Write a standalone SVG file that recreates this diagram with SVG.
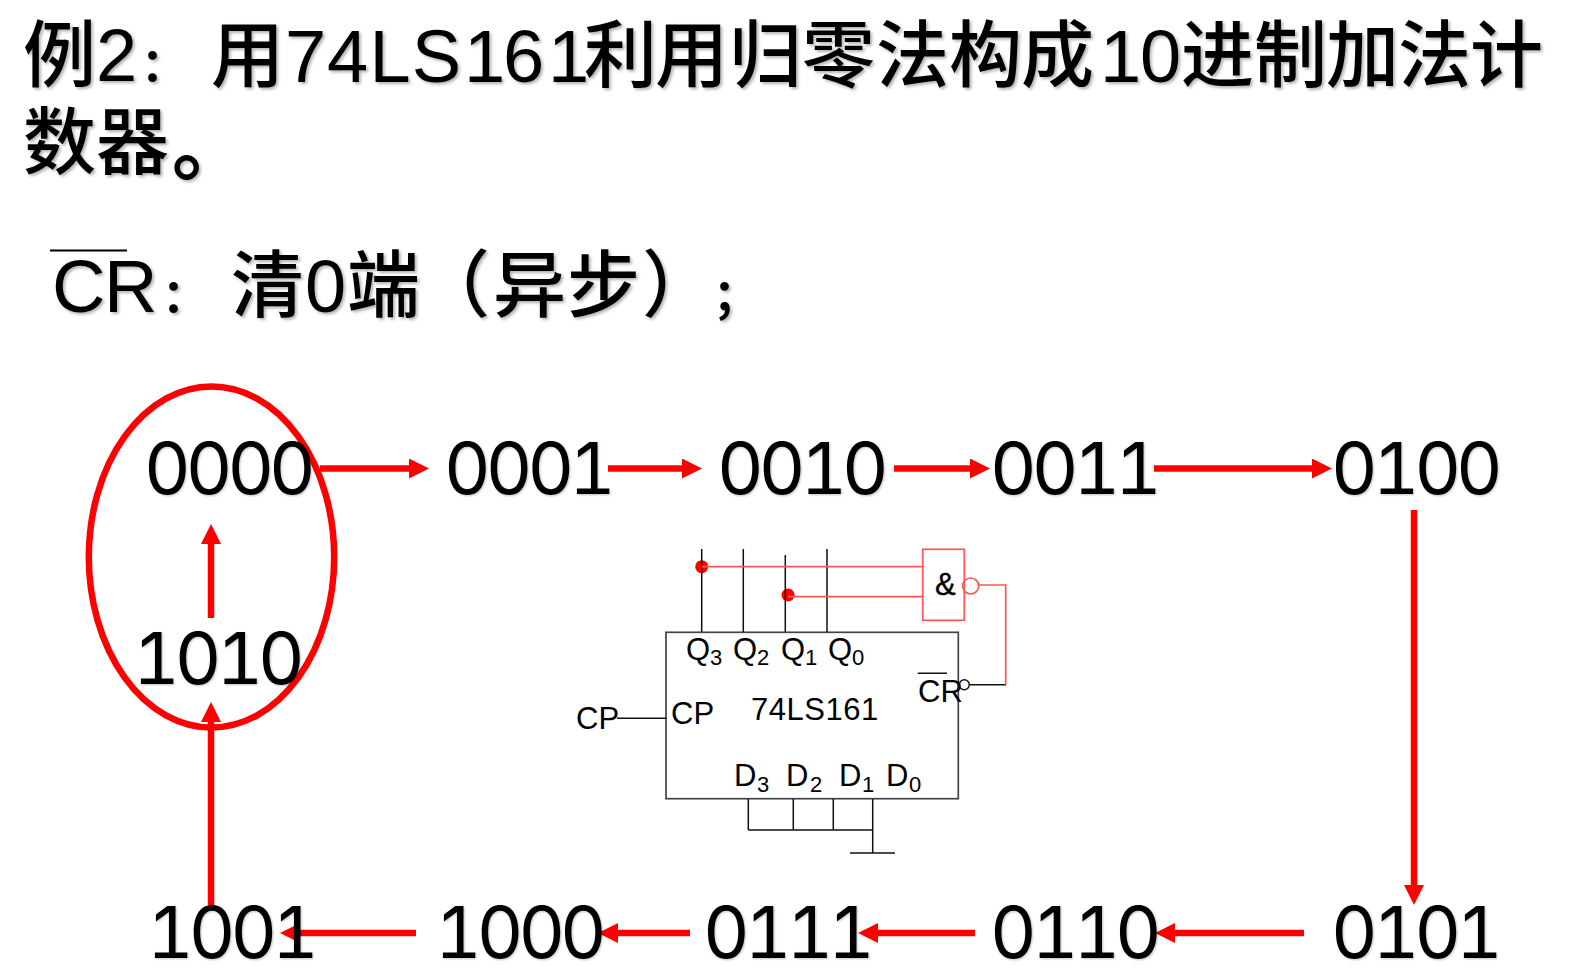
<svg xmlns="http://www.w3.org/2000/svg" width="1578" height="972" viewBox="0 0 1578 972">
<style>
text{font-family:"Liberation Sans","Noto Sans CJK SC",sans-serif;fill:#000;font-kerning:none}
.h{font-size:74px;filter:drop-shadow(2px 2px 1.5px rgba(0,0,0,.3))}
.j{font-family:"Noto Sans CJK SC",sans-serif;font-size:73px;font-weight:500}
.p{font-family:"Noto Sans CJK SC",sans-serif;font-size:46px;font-weight:700}
.o{font-family:"Noto Sans CJK SC",sans-serif;font-size:76px;font-weight:700}
.n{font-family:Inter,sans-serif;font-size:72px;font-variant-numeric:tabular-nums;letter-spacing:-5px;filter:drop-shadow(1px 1px 1px rgba(0,0,0,.25))}
.c{font-size:31px}
.s{font-size:22px}
.a{stroke:#f00;stroke-width:6.5;fill:none;marker-end:url(#ah)}
.r{stroke:#f55;stroke-width:1.7;fill:none}
.k{stroke:#111;stroke-width:1.5;fill:none}
.b{stroke:#444;stroke-width:1.7;fill:none}
</style>
<defs>
<marker id="ah" markerUnits="userSpaceOnUse" markerWidth="20" markerHeight="20" viewBox="0 0 20 20" refX="2" refY="10" orient="auto"><path d="M0 0L20 10L0 20Z" fill="#f00"/></marker>
</defs>
<g id="title">
<text class="h" y="82"><tspan class="j" x="23" y="81">例</tspan><tspan x="96">2</tspan><tspan class="p" x="141">：</tspan><tspan class="j" x="211" y="81">用</tspan><tspan x="285 327 369.5 411.7 464 503 548" y="82">74LS161</tspan><tspan class="j" x="584 655 729 802 876 949 1021" y="81">利用归零法构成</tspan><tspan x="1100 1140" y="82">10</tspan><tspan class="j" x="1181 1254 1326 1398 1470" y="81">进制加法计</tspan></text>
<text class="h" y="168"><tspan class="j" x="23 96">数器</tspan><tspan class="o" x="172" y="174">。</tspan></text>
</g>
<g id="note">
<text class="h" y="312"><tspan x="52 104">CR</tspan><tspan class="p" x="162">：</tspan><tspan class="j" x="231" y="311">清</tspan><tspan x="305" y="312">0</tspan><tspan class="j" x="347 417 493 567 642" y="311">端（异步）</tspan><tspan class="p" x="713" y="312">；</tspan></text>
<line x1="50" y1="250.5" x2="127" y2="250.5" stroke="#000" stroke-width="2"/>
</g>
<g id="loop"><ellipse cx="211.5" cy="557" rx="122.7" ry="170.5" fill="none" stroke="#f00" stroke-width="6.5"/></g>
<g id="connectors">
<line class="a" x1="320" y1="468.5" x2="411" y2="468.5"/>
<line class="a" x1="608" y1="468.5" x2="684" y2="468.5"/>
<line class="a" x1="894" y1="468.5" x2="972" y2="468.5"/>
<line class="a" x1="1154" y1="468.5" x2="1314" y2="468.5"/>
<line class="a" x1="1414" y1="510" x2="1414" y2="887"/>
<line class="a" x1="1304" y1="933" x2="1173" y2="933"/>
<line class="a" x1="975" y1="933" x2="876" y2="933"/>
<line class="a" x1="690" y1="933" x2="616" y2="933"/>
<line class="a" x1="416" y1="933" x2="298" y2="933"/>
<line class="a" x1="211" y1="905" x2="211" y2="720"/>
<line class="a" x1="211" y1="618" x2="211" y2="542"/>
</g>
<g id="s0000"><text class="n" x="144" y="494">0000</text></g>
<g id="s0001"><text class="n" x="444" y="494">0001</text></g>
<g id="s0010"><text class="n" x="717" y="494">0010</text></g>
<g id="s0011"><text class="n" x="990" y="494">0011</text></g>
<g id="s0100"><text class="n" x="1331" y="494">0100</text></g>
<g id="s0101"><text class="n" x="1331" y="958">0101</text></g>
<g id="s0110"><text class="n" x="990" y="958">0110</text></g>
<g id="s0111"><text class="n" x="703" y="958">0111</text></g>
<g id="s1000"><text class="n" x="435" y="958">1000</text></g>
<g id="s1001"><text class="n" x="147" y="958">1001</text></g>
<g id="s1010"><text class="n" x="133" y="684">1010</text></g>
<g id="chip">
<rect class="b" x="666" y="632.3" width="292.3" height="166.4"/>
<g class="c">
<text x="686" y="660">Q</text><text class="s" x="710" y="665">3</text>
<text x="733" y="660">Q</text><text class="s" x="757" y="665">2</text>
<text x="781" y="660">Q</text><text class="s" x="805" y="665">1</text>
<text x="828" y="660">Q</text><text class="s" x="852" y="665">0</text>
<text x="751" y="720" letter-spacing=".5">74LS161</text>
<text x="671" y="724">CP</text>
<text x="918" y="702">CR</text>
<text x="734" y="786">D</text><text class="s" x="757" y="792">3</text>
<text x="786" y="786">D</text><text class="s" x="810" y="792">2</text>
<text x="839" y="786">D</text><text class="s" x="862" y="792">1</text>
<text x="886" y="786">D</text><text class="s" x="909" y="792">0</text>
</g>
</g>
<g id="cp-in"><text class="c" x="576" y="729">CP</text></g>
<g id="and">
<rect class="r" x="922.7" y="549.3" width="41.6" height="71"/>
<text x="935" y="595" font-size="31" stroke="#000" stroke-width=".4">&amp;</text>
<circle class="r" cx="970.7" cy="586" r="8"/>
</g>
<g id="wires">
<circle cx="701.7" cy="566.7" r="6.5" fill="#f00"/>
<circle cx="788" cy="595" r="6.5" fill="#f00"/>
<path class="k" d="M701.7 549V632M743.3 549V632M785.3 555V632M827 549V632"/>
<path class="k" d="M617 718.3H667M748.3 799V830M793.3 799V830M833.3 799V830M872.7 799V853M748.3 830H872.7M850 853H895"/>
<path class="k" d="M969.7 684.7H1006M917.7 673.3H947"/>
<circle class="k" cx="964.3" cy="684.7" r="5"/>
<path class="r" d="M701.7 566.7H922.7M788 596.7H922.7M979 585H1005.7V684.7"/>
</g>
</svg>
